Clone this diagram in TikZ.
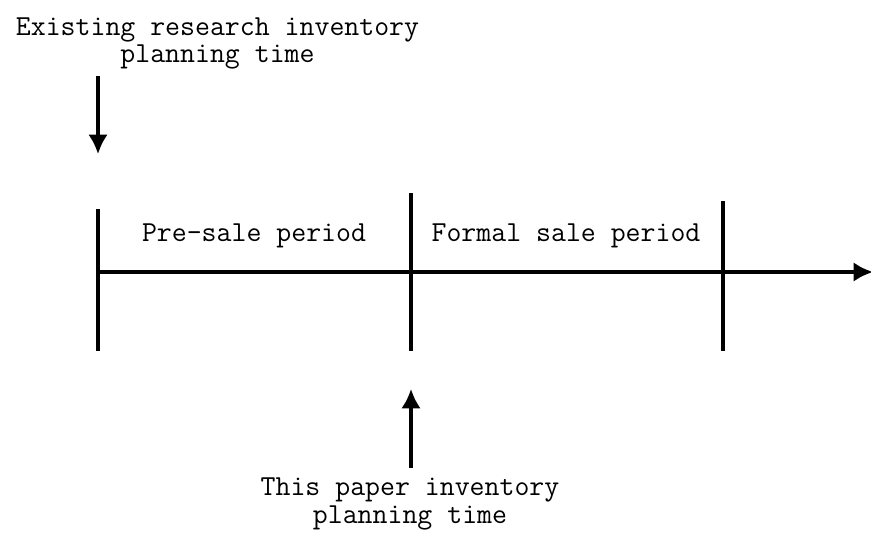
\documentclass[tikz,border=0pt]{standalone}
\usetikzlibrary{arrows.meta}
\tikzset{
    lbl/.style={font=\ttfamily\fontsize{16.5}{15.6}\selectfont, inner sep=0pt, align=center, anchor=base},
    axisline/.style={line width=1.9pt, black}
}
\begin{document}
\begin{tikzpicture}[scale=1.0, >={Latex[length=11pt,width=11pt]}]
    % Khung hình
    \useasboundingbox (0, 0) rectangle (17.42, 10.66);

    % 1. Trục thời gian
    \coordinate (start) at (1.96, 5.22);
    \coordinate (end) at (17.46, 5.22);
    \draw[->, axisline] (start) -- (end);

    % 2. Các vạch chia
    \coordinate (t1top) at (1.96, 6.48);  \coordinate (t1bot) at (1.96, 3.64);
    \coordinate (t2top) at (8.22, 6.80);  \coordinate (t2bot) at (8.22, 3.64);
    \coordinate (t3top) at (14.46, 6.64); \coordinate (t3bot) at (14.46, 3.64);
    \draw[axisline] (t1top) -- (t1bot);
    \draw[axisline] (t2top) -- (t2bot);
    \draw[axisline] (t3top) -- (t3bot);

    % 3. Tên các giai đoạn
    \node[lbl] (presale) at (5.08, 5.82) {Pre-sale period};
    \node[lbl] (formal) at (11.32, 5.82) {Formal sale period};

    % 4. Thời điểm lập kế hoạch (base = dòng cuối)
    \node[lbl] (existing) at (4.35, 9.40) {Existing research inventory\\planning time};
    \node[lbl] (thispaper) at (8.20, 0.20) {This paper inventory\\planning time};

    % 5. Mũi tên chỉ thời điểm
    \coordinate (a1from) at (1.96, 9.14); \coordinate (a1to) at (1.96, 7.58);
    \coordinate (a2from) at (8.22, 1.30); \coordinate (a2to) at (8.22, 2.88);
    \draw[->, line width=1.8pt] (a1from) -- (a1to);
    \draw[->, line width=1.8pt] (a2from) -- (a2to);
\end{tikzpicture}
\end{document}
